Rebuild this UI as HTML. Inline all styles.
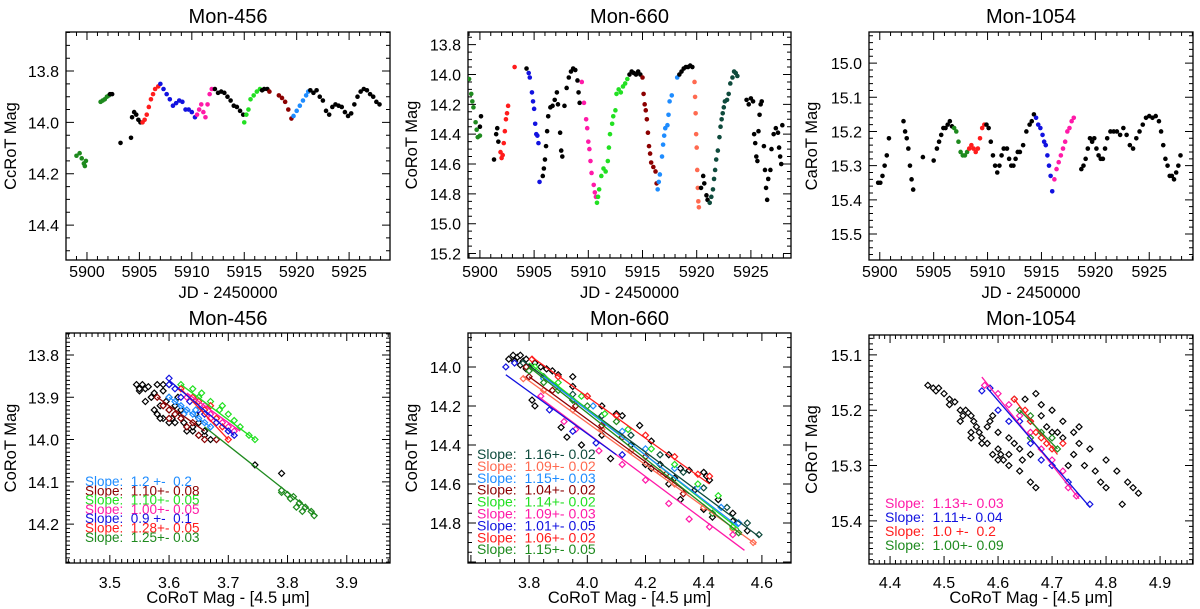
<!DOCTYPE html>
<html><head><meta charset="utf-8"><style>
html,body{margin:0;padding:0;background:#fff;}
svg{display:block;font-family:"Liberation Sans",Arial,sans-serif;}
.leg{white-space:pre;}
</style></head><body>
<svg id="fig" width="1200" height="609" viewBox="0 0 1200 609" xmlns="http://www.w3.org/2000/svg"></svg>
<script>
// ---------- DATA ----------
const C={g:"#1e8a1e",lime:"#22e022",red:"#ff1c1c",blue:"#1212e0",mag:"#ff1aa8",dod:"#1e8cff",dred:"#8b0000",sal:"#ff6a50",teal:"#0e4a3c",k:"#000"};
// Mon-456 light curve segments: [colorKey, days, mags]
const lc456=[
["g",[5899,5899.3,5899.5,5899.7,5899.8,5899.9],[14.13,14.12,14.14,14.16,14.17,14.15]],
["g",[5901.3,5901.5,5901.7,5901.9,5902.1],[13.92,13.915,13.91,13.9,13.895]],
["k",[5902.2,5902.4,5903.2,5904.2,5904.3,5904.5,5904.7,5904.9,5905.1],[13.89,13.89,14.08,14.06,13.98,13.96,13.97,13.99,14.0]],
["red",[5905.3,5905.5,5905.7,5905.9,5906.1,5906.3,5906.5,5906.8],[14.0,13.99,13.97,13.94,13.91,13.89,13.87,13.86]],
["blue",[5907,5907.3,5907.6,5907.9,5908.2,5908.5,5908.8,5909.1,5909.4,5909.7,5910,5910.3],[13.85,13.87,13.89,13.91,13.935,13.925,13.915,13.92,13.95,13.95,13.96,13.98]],
["mag",[5910.5,5910.7,5910.9,5911.1,5911.3,5911.5,5911.7,5911.9],[13.97,13.95,13.93,13.96,13.98,13.93,13.89,13.87]],
["k",[5912.2,5912.5,5912.8,5913.1,5913.4,5913.7,5914,5914.3,5914.6,5914.9],[13.87,13.885,13.88,13.885,13.9,13.915,13.935,13.94,13.955,13.97]],
["lime",[5915,5915.2,5915.4,5915.6,5915.9,5916.2,5916.5],[14.0,13.97,13.95,13.91,13.895,13.88,13.87]],
["k",[5916.7,5916.9,5917.2],[13.875,13.87,13.87]],
["dred",[5917.4,5918.3,5918.6,5918.9,5919.2,5919.5],[13.88,13.895,13.905,13.92,13.95,13.985]],
["dod",[5919.7,5920,5920.3,5920.6,5920.9,5921.1],[13.975,13.955,13.935,13.915,13.895,13.88]],
["k",[5921.3,5921.6,5921.9,5922.2,5922.5,5922.8,5923.1,5923.4,5923.7,5924,5924.3,5924.6,5924.9,5925.2,5925.5,5925.8,5926.1,5926.4,5926.7,5927,5927.3,5927.6,5927.9],[13.875,13.885,13.875,13.9,13.915,13.955,13.97,13.94,13.93,13.935,13.94,13.96,13.975,13.965,13.93,13.9,13.88,13.87,13.875,13.89,13.9,13.92,13.93]]
];
const lc660=[
["g",[5899,5899.2,5899.3,5899.4,5899.6,5899.7,5899.8,5900],[14.03,14.13,14.18,14.22,14.32,14.37,14.42,14.41]],
["k",[5900,5900.1,5901.3,5901.5,5901.6,5901.7],[14.35,14.28,14.57,14.4,14.36,14.45]],
["red",[5901.9,5902,5902.1,5902.2,5902.3,5902.4,5902.5,5902.6,5903.2],[14.52,14.56,14.54,14.46,14.38,14.3,14.26,14.21,13.95]],
["k",[5904.3],[13.96]],
["blue",[5904.5,5904.6,5904.8,5904.9,5905,5905.1,5905.2,5905.3,5905.4,5905.5],[13.99,14.02,14.12,14.18,14.23,14.33,14.4,14.41,14.46,14.72]],
["k",[5905.8,5905.9,5906,5906.1,5906.2,5906.3,5906.5,5906.7,5906.9,5907.1,5907.2,5907.4,5907.5,5907.6,5907.8,5908,5908.2,5908.4,5908.6,5908.8,5909,5909.1,5909.2],[14.68,14.63,14.57,14.48,14.38,14.28,14.22,14.21,14.17,14.12,14.2,14.39,14.51,14.55,14.21,14.09,14.02,13.98,13.96,13.97,14.04,14.12,14.19]],
["mag",[5909.4,5909.6,5909.8,5909.9,5910,5910.1,5910.2,5910.3,5910.5,5910.6,5910.7],[14.05,14.19,14.3,14.36,14.45,14.5,14.58,14.66,14.74,14.79,14.82]],
["lime",[5910.8,5910.9,5911,5911.2,5911.4,5911.6,5911.8,5911.9,5912,5912.2,5912.3,5912.5,5912.6,5912.8,5913,5913.2,5913.4,5913.6],[14.86,14.82,14.77,14.68,14.63,14.65,14.58,14.49,14.4,14.33,14.28,14.24,14.13,14.1,14.12,14.08,14.06,14.03]],
["k",[5913.8,5914,5914.2,5914.4,5914.6,5914.8],[14.0,13.98,13.99,14.0,13.98,14.0]],
["dred",[5915,5915.1,5915.2,5915.3,5915.4,5915.5,5915.6,5915.7,5915.8,5916,5916.2,5916.3],[14.02,14.13,14.2,14.24,14.3,14.39,14.48,14.53,14.59,14.62,14.65,14.73]],
["dod",[5916.4,5916.5,5916.6,5916.8,5916.9,5917,5917.1,5917.3,5917.4,5917.5,5917.7,5918.2],[14.77,14.72,14.67,14.55,14.47,14.41,14.36,14.34,14.27,14.18,14.14,14.02]],
["k",[5918.4,5918.6,5918.8,5919,5919.2,5919.4,5919.6],[14.0,13.98,13.96,13.95,13.95,13.94,13.95]],
["sal",[5919.8,5919.85,5919.9,5919.95,5920,5920.05,5920.1,5920.15,5920.2],[14.05,14.15,14.26,14.4,14.49,14.64,14.76,14.85,14.89]],
["k",[5920.4,5920.6,5920.7,5920.9,5921],[14.76,14.68,14.73,14.81,14.84]],
["teal",[5921.2,5921.35,5921.5,5921.6,5921.7,5921.8,5921.95,5922.1,5922.2,5922.3,5922.4,5922.5,5922.6,5922.8,5922.95,5923.1,5923.3,5923.45,5923.6,5923.75],[14.86,14.82,14.77,14.7,14.64,14.57,14.51,14.42,14.35,14.3,14.26,14.22,14.18,14.17,14.13,14.06,14.02,13.98,13.99,14.01]],
["k",[5924.6,5924.8,5925,5925.2,5925.3,5925.4,5925.5,5925.6,5925.7,5925.8,5925.9,5926,5926.2,5926.3,5926.4,5926.5,5926.6,5926.8,5926.9,5927.1,5927.3,5927.5,5927.6,5927.7,5927.8,5927.9],[14.17,14.2,14.16,14.18,14.4,14.46,14.55,14.58,14.38,14.27,14.2,14.18,14.48,14.64,14.76,14.84,14.7,14.64,14.5,14.4,14.36,14.39,14.49,14.55,14.6,14.34]]
];
const lc1054=[
["k",[5899.85,5900.05,5900.25,5900.45,5900.65,5900.85,5902.2,5902.35,5902.5,5902.65,5902.8,5902.95,5903.1,5904.0,5905.0],[15.35,15.35,15.33,15.3,15.27,15.22,15.17,15.2,15.22,15.25,15.3,15.34,15.37,15.275,15.285]],
["k",[5905.3,5905.5,5905.7,5905.9,5906.1,5906.3,5906.5,5906.7],[15.25,15.23,15.21,15.19,15.19,15.18,15.17,15.185]],
["g",[5906.9,5907.1,5907.3,5907.5,5907.7,5907.9,5908.1],[15.19,15.2,15.23,15.26,15.27,15.27,15.26]],
["red",[5908.3,5908.5,5908.7,5908.9,5909.1,5909.3,5909.5,5909.7],[15.25,15.24,15.25,15.26,15.25,15.22,15.19,15.18]],
["k",[5909.9,5910.1,5910.3,5910.5,5910.7,5910.9,5911.1,5911.3,5911.5,5911.8,5912,5912.2,5912.4,5912.6,5912.8,5913,5913.3,5913.6,5913.9,5914.1,5914.3],[15.18,15.19,15.23,15.27,15.3,15.32,15.3,15.27,15.25,15.25,15.28,15.3,15.3,15.28,15.26,15.26,15.24,15.2,15.18,15.17,15.15]],
["blue",[5914.5,5914.7,5914.9,5915.1,5915.25,5915.4,5915.55,5915.7,5915.85,5916.0],[15.16,15.18,15.19,15.21,15.23,15.24,15.27,15.3,15.33,15.375]],
["mag",[5916.2,5916.4,5916.6,5916.8,5917,5917.2,5917.4,5917.6,5917.8,5918],[15.34,15.31,15.29,15.27,15.25,15.23,15.2,15.19,15.17,15.16]],
["k",[5918.7,5918.9,5919.1,5919.3,5919.5,5919.7,5919.9,5920.1,5920.3,5920.5,5920.7,5920.9,5921.1,5921.4,5921.7,5922,5922.3,5922.6,5922.9,5923.2,5923.5,5923.8,5924.1,5924.4,5924.7,5925,5925.3,5925.6,5925.9,5926.1,5926.3,5926.5,5926.7,5926.9,5927.1,5927.3,5927.5,5927.7,5927.9],[15.31,15.3,15.28,15.25,15.22,15.23,15.22,15.25,15.27,15.28,15.28,15.25,15.22,15.2,15.2,15.2,15.21,15.19,15.21,15.24,15.25,15.22,15.2,15.18,15.16,15.155,15.16,15.155,15.17,15.2,15.24,15.28,15.3,15.33,15.33,15.34,15.32,15.3,15.27]]
];
// Colour-magnitude scatter: [colorKey, [[x,y]...]]
const cm456=[
["k",[[3.545,13.87],[3.55,13.885],[3.555,13.87],[3.56,13.88],[3.565,13.875],[3.57,13.9],[3.575,13.89],[3.58,13.87],[3.585,13.92],[3.59,13.885],[3.595,13.91],[3.6,13.93],[3.6,13.87],[3.605,13.95],[3.61,13.92],[3.615,13.9],[3.62,13.94],[3.625,13.96],[3.63,13.97],[3.64,13.98],[3.645,13.94],[3.65,13.96],[3.66,13.99],[3.67,14.0],[3.68,14.0],[3.55,13.88],[3.56,13.91],[3.57,13.9],[3.58,13.94],[3.59,13.95],[3.6,13.9],[3.61,13.96],[3.62,13.93],[3.63,13.98],[3.64,13.97],[3.65,13.99],[3.66,13.98],[3.59,13.87],[3.6,13.96],[3.745,14.06],[3.79,14.08],[3.575,13.93],[3.585,13.95]]],
["g",[[3.79,14.125],[3.8,14.13],[3.805,14.14],[3.81,14.135],[3.815,14.16],[3.82,14.15],[3.825,14.17],[3.83,14.16],[3.84,14.17],[3.845,14.18],[3.79,14.12]]],
["lime",[[3.62,13.87],[3.64,13.88],[3.655,13.89],[3.67,13.91],[3.685,13.93],[3.7,13.94],[3.71,13.955],[3.72,13.97],[3.735,13.99],[3.745,14.0],[3.65,13.9],[3.69,13.92]]],
["mag",[[3.63,13.9],[3.645,13.91],[3.66,13.92],[3.67,13.94],[3.68,13.95],[3.69,13.96],[3.7,13.97],[3.71,13.98],[3.67,13.95]]],
["red",[[3.62,13.88],[3.64,13.9],[3.66,13.93],[3.67,13.92],[3.68,13.95],[3.69,13.97],[3.7,14.0],[3.65,13.91]]],
["blue",[[3.6,13.855],[3.61,13.88],[3.62,13.9],[3.635,13.91],[3.65,13.93],[3.66,13.94],[3.68,13.96],[3.7,13.98],[3.71,13.99],[3.6,13.87]]],
["dod",[[3.6,13.9],[3.61,13.91],[3.62,13.92],[3.63,13.93],[3.64,13.94],[3.65,13.95],[3.66,13.96],[3.67,13.97],[3.625,13.94],[3.645,13.93]]],
["dred",[[3.58,13.9],[3.59,13.92],[3.6,13.93],[3.61,13.94],[3.62,13.95],[3.63,13.97],[3.64,13.96],[3.65,13.99],[3.66,14.0],[3.68,14.0],[3.6,13.95]]]
];
const fit456=[["g",3.66,13.97,3.85,14.18],["lime",3.62,13.87,3.745,14.0],["mag",3.63,13.89,3.72,13.98],["red",3.62,13.88,3.7,14.0],["blue",3.6,13.86,3.71,13.99],["dod",3.6,13.9,3.67,13.97],["dred",3.58,13.9,3.66,13.98]];
const leg456=[["dod","Slope:  1.2 +-  0.2"],["dred","Slope:  1.10+- 0.08"],["lime","Slope:  1.10+- 0.05"],["mag","Slope:  1.00+- 0.05"],["blue","Slope:  0.9 +-  0.1"],["red","Slope:  1.28+- 0.05"],["g","Slope:  1.25+- 0.03"]];
const cm660=[
["k",[[3.73,13.96],[3.745,13.94],[3.76,13.95],[3.77,13.94],[3.78,13.97],[3.79,13.96],[3.8,14.0],[3.82,13.98],[3.84,14.0],[3.86,14.01],[3.9,14.04],[3.95,14.1],[4.0,14.15],[4.05,14.2],[4.1,14.24],[4.12,14.25],[4.18,14.3],[4.22,14.38],[4.28,14.45],[4.32,14.52],[4.35,14.53],[4.4,14.54],[4.41,14.56],[4.42,14.58],[4.45,14.68],[4.5,14.75],[4.52,14.8],[4.55,14.84],[3.81,14.17],[3.82,14.2],[3.91,14.31],[3.93,14.36],[3.98,14.4],[4.08,14.47],[4.2,14.5],[4.22,14.52],[4.28,14.6],[4.32,14.68],[4.4,14.73],[4.43,14.77],[4.5,14.79],[4.05,14.35],[4.15,14.4],[4.25,14.5],[3.88,14.02],[3.95,14.05],[4.3,14.57],[4.37,14.63],[3.75,13.97],[3.77,13.99],[3.79,14.01]]],
["teal",[[3.78,13.98],[3.85,14.05],[3.95,14.14],[4.05,14.25],[4.15,14.35],[4.25,14.45],[4.33,14.54],[4.4,14.62],[4.48,14.72],[4.55,14.8],[4.59,14.86]]],
["sal",[[3.78,14.06],[3.85,14.12],[3.95,14.22],[4.05,14.32],[4.15,14.43],[4.25,14.54],[4.3,14.6],[4.4,14.72],[4.5,14.83],[4.57,14.9]]],
["dod",[[3.85,14.06],[3.95,14.17],[4.02,14.2],[4.12,14.33],[4.2,14.42],[4.3,14.52],[4.38,14.62],[4.46,14.72],[4.52,14.8]]],
["dred",[[3.8,14.05],[3.88,14.12],[3.96,14.2],[4.05,14.3],[4.12,14.36],[4.2,14.46],[4.27,14.55],[4.33,14.65],[3.79,14.0]]],
["lime",[[3.82,14.0],[3.9,14.08],[3.98,14.15],[4.06,14.24],[4.14,14.32],[4.22,14.42],[4.3,14.5],[4.38,14.6],[4.45,14.66],[4.5,14.82]]],
["mag",[[3.84,14.15],[3.92,14.28],[3.96,14.32],[4.04,14.43],[4.12,14.5],[4.2,14.58],[4.28,14.7],[4.35,14.78],[4.42,14.82],[4.5,14.86]]],
["blue",[[3.72,14.0],[3.75,13.98],[3.87,14.22],[3.95,14.33],[4.03,14.39],[4.12,14.45]]],
["red",[[3.81,13.96],[3.9,14.05],[4.0,14.15],[4.1,14.25],[4.2,14.35],[4.3,14.46],[4.38,14.55],[4.42,14.56]]],
["g",[[3.8,14.02],[3.85,14.08],[3.9,14.12],[3.95,14.17],[4.0,14.2],[4.1,14.28],[4.43,14.75],[4.52,14.85]]]
];
const fit660=[["red",3.81,13.95,4.42,14.6],["teal",3.78,13.97,4.59,14.87],["lime",3.8,13.98,4.52,14.83],["dod",3.85,14.05,4.52,14.82],["dred",3.8,14.05,4.35,14.65],["sal",3.78,14.05,4.58,14.91],["g",3.8,14.0,4.53,14.86],["mag",3.83,14.15,4.54,14.94],["blue",3.72,14.04,4.1,14.45]];
const leg660=[["teal","Slope:  1.16+- 0.02"],["sal","Slope:  1.09+- 0.02"],["dod","Slope:  1.15+- 0.03"],["dred","Slope:  1.04+- 0.02"],["lime","Slope:  1.14+- 0.02"],["mag","Slope:  1.09+- 0.03"],["blue","Slope:  1.01+- 0.05"],["red","Slope:  1.06+- 0.02"],["g","Slope:  1.15+- 0.05"]];
const cm1054=[
["k",[[4.47,15.155],[4.48,15.16],[4.485,15.165],[4.49,15.16],[4.5,15.17],[4.51,15.18],[4.52,15.185],[4.53,15.2],[4.535,15.21],[4.54,15.2],[4.545,15.205],[4.55,15.21],[4.555,15.22],[4.56,15.23],[4.565,15.24],[4.57,15.25],[4.58,15.26],[4.585,15.22],[4.59,15.21],[4.6,15.27],[4.605,15.28],[4.61,15.29],[4.62,15.3],[4.63,15.26],[4.64,15.31],[4.645,15.29],[4.66,15.33],[4.67,15.34],[4.58,15.23],[4.6,15.24],[4.62,15.25],[4.64,15.27],[4.66,15.28],[4.55,15.24],[4.57,15.26],[4.59,15.28],[4.6,15.29],[4.62,15.28],[4.63,15.18],[4.65,15.18],[4.67,15.17],[4.68,15.19],[4.7,15.2],[4.72,15.22],[4.74,15.24],[4.75,15.26],[4.77,15.27],[4.72,15.25],[4.73,15.3],[4.76,15.3],[4.78,15.31],[4.79,15.33],[4.8,15.34],[4.8,15.29],[4.82,15.31],[4.83,15.37],[4.84,15.33],[4.85,15.34],[4.86,15.35],[4.74,15.28],[4.7,15.24],[4.69,15.23],[4.71,15.24],[4.66,15.22],[4.68,15.21],[4.75,15.23],[4.53,15.22],[4.51,15.19],[4.55,15.25]]],
["mag",[[4.575,15.155],[4.6,15.17],[4.62,15.19],[4.64,15.21],[4.66,15.24],[4.68,15.27],[4.7,15.29],[4.72,15.31],[4.745,15.355],[4.73,15.34]]],
["blue",[[4.57,15.165],[4.585,15.16],[4.6,15.2],[4.62,15.22],[4.64,15.22],[4.66,15.26],[4.68,15.29],[4.7,15.3],[4.73,15.33],[4.77,15.37]]],
["red",[[4.63,15.18],[4.65,15.2],[4.66,15.22],[4.67,15.24],[4.68,15.25],[4.69,15.26],[4.7,15.27],[4.72,15.26]]],
["g",[[4.64,15.2],[4.66,15.21],[4.68,15.24],[4.7,15.25],[4.71,15.27],[4.66,15.25]]]
];
const fit1054=[["mag",4.57,15.14,4.75,15.36],["blue",4.58,15.16,4.77,15.375],["red",4.63,15.18,4.71,15.28],["g",4.64,15.2,4.71,15.27]];
const leg1054=[["mag","Slope:  1.13+- 0.03"],["blue","Slope:  1.11+- 0.04"],["red","Slope:  1.0 +-  0.2"],["g","Slope:  1.00+- 0.09"]];
// tick labels
const xtTop=[5900,5905,5910,5915,5920,5925];
const yt456=["13.8","14.0","14.2","14.4"];
const yt660=["13.8","14.0","14.2","14.4","14.6","14.8","15.0","15.2"];
const yt1054=["15.0","15.1","15.2","15.3","15.4","15.5"];
const xt456b=["3.5","3.6","3.7","3.8","3.9"];
const yt456b=["13.8","13.9","14.0","14.1","14.2"];
const xt660b=["3.8","4.0","4.2","4.4","4.6"];
const yt660b=["14.0","14.2","14.4","14.6","14.8"];
const xt1054b=["4.4","4.5","4.6","4.7","4.8","4.9"];
const yt1054b=["15.1","15.2","15.3","15.4"];

// ---------- DRAWING ----------
const NS="http://www.w3.org/2000/svg";
const svg=document.getElementById("fig");
function el(tag,attrs,parent){const e=document.createElementNS(NS,tag);for(const k in attrs)e.setAttribute(k,attrs[k]);(parent||svg).appendChild(e);return e;}
function panel(id,L,T,R,B,x0,x1,y0,y1,xMaj,xMin,yMaj,yMin,xLabels,yLabels,title,xTitle,yTitle,tlabelY,xtitleY,titleY,ytitleX){
  const g=el("g",{});
  
  
  const sx=v=>L+(v-x0)/(x1-x0)*(R-L), sy=v=>T+(v-y0)/(y1-y0)*(B-T);
  const fr=el("rect",{x:L,y:T,width:R-L,height:B-T,fill:"none",stroke:"#000","stroke-width":1.3},g);
  
  
  const eps=1e-9;
  let d="";
  for(let v=Math.ceil((x0-eps)/xMin)*xMin;v<=x1+eps;v+=xMin){const X=sx(v);const major=Math.abs(v/xMaj-Math.round(v/xMaj))<1e-6;const len=major?8:4;d+=`M${X},${B}v${-len}M${X},${T}v${len}`;}
  for(let v=Math.ceil((y0-eps)/yMin)*yMin;v<=y1+eps;v+=yMin){const Y=sy(v);const major=Math.abs(v/yMaj-Math.round(v/yMaj))<1e-6;const len=major?8:4;d+=`M${L},${Y}h${len}M${R},${Y}h${-len}`;}
  const tk=el("path",{d:d,stroke:"#000","stroke-width":1,fill:"none"},g);
  
  
  xLabels.forEach(s=>{const t=el("text",{x:sx(+s),y:tlabelY,"font-size":16,"text-anchor":"middle"},g);t.textContent=s;
    
    });
  yLabels.forEach(s=>{const t=el("text",{x:L-7,y:sy(+s)+6,"font-size":16,"text-anchor":"end"},g);t.textContent=s;
    
    });
  const tt=el("text",{x:(L+R)/2,y:titleY,"font-size":20,"text-anchor":"middle"},g);tt.textContent=title;
  
  
  const xt=el("text",{x:(L+R)/2,y:xtitleY,"font-size":16.5,"text-anchor":"middle"},g);xt.textContent=xTitle;
  
  
  const yc=(T+B)/2;
  const yt=el("text",{x:ytitleX,y:yc,"font-size":16.5,"text-anchor":"middle",transform:`rotate(-90 ${ytitleX} ${yc})`},g);yt.textContent=yTitle;
  
  
  const clip=el("clipPath",{id:"clip-"+id},g);el("rect",{x:L,y:T,width:R-L,height:B-T},clip);
  const marks=el("g",{"clip-path":`url(#clip-${id})`},g);
  
  
  return {sx,sy,marks,g};
}
function lightCurve(p,segs){
  segs.forEach(s=>{const col=C[s[0]];s[1].forEach((t,i)=>{const c=el("circle",{cx:p.sx(t),cy:p.sy(s[2][i]),r:2.3,fill:col},p.marks);
    
    });});
}
function colorMag(p,pts,fits,leg,lx,ly,dy,fs){
  pts.forEach(s=>{const col=C[s[0]];s[1].forEach(q=>{const X=p.sx(q[0]),Y=p.sy(q[1]);
    const m=el("path",{d:`M${X},${Y-3}L${X+3},${Y}L${X},${Y+3}L${X-3},${Y}Z`,fill:"#fff",stroke:col,"stroke-width":1.2},p.marks);
    
    });});
  fits.forEach(f=>{const ln=el("line",{x1:p.sx(f[1]),y1:p.sy(f[2]),x2:p.sx(f[3]),y2:p.sy(f[4]),stroke:C[f[0]],"stroke-width":1.3},p.marks);
    
    });
  leg.forEach((l,i)=>{const t=el("text",{x:lx,y:ly+i*dy,"font-size":fs,fill:C[l[0]],"class":"leg"},p.g);t.textContent=l[1];
    
    });
}
const jd="JD - 2450000", cmx="CoRoT Mag - [4.5 \u03bcm]";
const xtT=xtTop.map(String);
let p;
p=panel("panel-mon456-lightcurve",66,32,390,260,5898,5928.9,13.648,14.536,5,1,0.2,0.05,xtT,yt456,"Mon-456",jd,"CcRoT Mag",277,298,23,16);
lightCurve(p,lc456);
p=panel("panel-mon660-lightcurve",468,32,791,258,5898.9,5928.7,13.715,15.23,5,1,0.2,0.05,xtT,yt660,"Mon-660",jd,"CoRoT Mag",277,298,23,417);
lightCurve(p,lc660);
p=panel("panel-mon1054-lightcurve",869,32,1193,260,5899,5929.06,14.909,15.576,5,1,0.1,0.02,xtT,yt1054,"Mon-1054",jd,"CaRoT Mag",277,298,23,817);
lightCurve(p,lc1054);
p=panel("panel-mon456-colormag",66,333,390,563,3.426,3.973,13.748,14.292,0.1,0.01,0.1,0.01,xt456b,yt456b,"Mon-456",cmx,"CoRoT Mag",588,603,325,16);
colorMag(p,cm456,fit456,leg456,85,486,9.3,13.5);
p=panel("panel-mon660-colormag",468,333,791,563,3.59,4.70,13.826,15.005,0.2,0.05,0.2,0.05,xt660b,yt660b,"Mon-660",cmx,"CoRoT Mag",588,603,325,417);
colorMag(p,cm660,fit660,leg660,477,459,11.9,14);
p=panel("panel-mon1054-colormag",869,335,1193,564,4.361,4.961,15.064,15.478,0.1,0.01,0.1,0.01,xt1054b,yt1054b,"Mon-1054",cmx,"CoRoT Mag",588,603,325,817);
colorMag(p,cm1054,fit1054,leg1054,885,508,14,14);
</script>
</body></html>
